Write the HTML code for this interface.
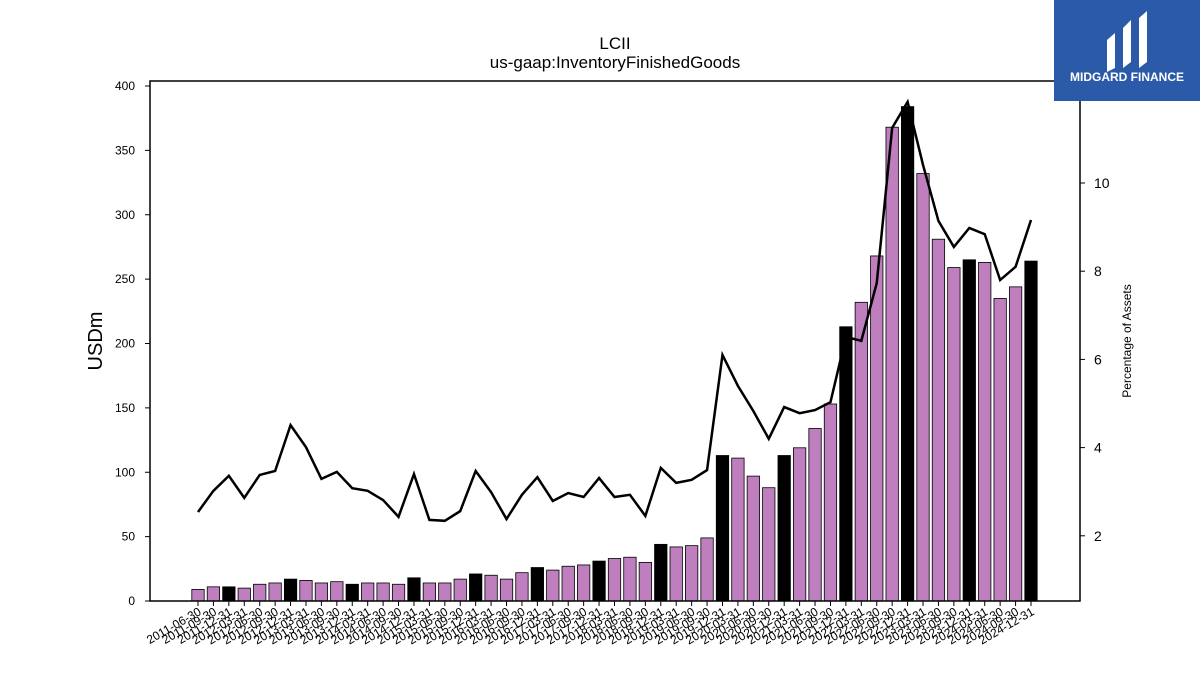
<!DOCTYPE html>
<html><head><meta charset="utf-8"><style>
body{margin:0;background:#fff;font-family:"Liberation Sans","DejaVu Sans",sans-serif;}
svg text{font-family:"Liberation Sans","DejaVu Sans",sans-serif;}
</style></head><body>
<svg id="chart" width="1200" height="675" xmlns="http://www.w3.org/2000/svg">
<rect width="1200" height="675" fill="#fff"/>
<text x="615" y="49" font-size="17" text-anchor="middle">LCII</text>
<text x="615" y="68" font-size="17" text-anchor="middle">us-gaap:InventoryFinishedGoods</text>
<g id="bars"></g>
<g id="line"></g>
<rect x="150" y="81" width="930" height="520" fill="none" stroke="#000" stroke-width="1.5"/>
<g id="yleft"></g>
<g id="yright"></g>
<g id="xaxis"></g>
<text transform="translate(102,341) rotate(-90)" font-size="20" text-anchor="middle">USDm</text>
<text transform="translate(1131,341) rotate(-90)" font-size="12" text-anchor="middle">Percentage of Assets</text>
<g>
<rect x="1054" y="0" width="146" height="101" fill="#2b5aa9"/>
<path d="M1107 40 L1115 33 L1115 68 L1107 72 Z M1123 28 L1131 20 L1131 62 L1123 68 Z M1139 18 L1147 11 L1147 62 L1139 68 Z" fill="#fff"/>
<text x="1127" y="81" font-size="12" font-weight="bold" fill="#fff" text-anchor="middle">MIDGARD FINANCE</text>
</g>
</svg>
<script>
const dates=["2011-06-30","2011-09-30","2011-12-31","2012-03-31","2012-06-30","2012-09-30","2012-12-31","2013-03-31","2013-06-30","2013-09-30","2013-12-31","2014-03-31","2014-06-30","2014-09-30","2014-12-31","2015-03-31","2015-06-30","2015-09-30","2015-12-31","2016-03-31","2016-06-30","2016-09-30","2016-12-31","2017-03-31","2017-06-30","2017-09-30","2017-12-31","2018-03-31","2018-06-30","2018-09-30","2018-12-31","2019-03-31","2019-06-30","2019-09-30","2019-12-31","2020-03-31","2020-06-30","2020-09-30","2020-12-31","2021-03-31","2021-06-30","2021-09-30","2021-12-31","2022-03-31","2022-06-30","2022-09-30","2022-12-31","2023-03-31","2023-06-30","2023-09-30","2023-12-31","2024-03-31","2024-06-30","2024-09-30","2024-12-31"];
const values=[9,11,11,10,13,14,17,16,14,15,13,14,14,13,18,14,14,17,21,20,17,22,26,24,27,28,31,33,34,30,44,42,43,49,113,111,97,88,113,119,134,153,213,232,268,368,384,332,281,259,265,263,235,244,264];
const pct=[2.54,3.02,3.36,2.86,3.38,3.47,4.51,4.01,3.29,3.45,3.08,3.02,2.81,2.43,3.40,2.36,2.34,2.56,3.47,2.99,2.38,2.93,3.33,2.79,2.97,2.88,3.31,2.88,2.93,2.45,3.54,3.20,3.27,3.49,6.10,5.40,4.83,4.20,4.92,4.78,4.85,5.03,6.51,6.42,7.73,11.25,11.84,10.41,9.14,8.55,8.98,8.84,7.80,8.10,9.16];
const leftTicks=[0,50,100,150,200,250,300,350,400];
const rightTicks=[2,4,6,8,10];
const NS="http://www.w3.org/2000/svg";
function mk(t,a,p){const e=document.createElementNS(NS,t);for(const k in a)e.setAttribute(k,a[k]);p.appendChild(e);return e;}
const x=i=>198+i*(1031-198)/(dates.length-1);
const yL=v=>601-v*(515/400);
const yR=v=>624-v*44.1;
const bw=12.4;
const bars=document.getElementById('bars');
values.forEach((v,i)=>{
 const black=dates[i].endsWith('12-31');
 const r=mk('rect',{x:x(i)-bw/2,y:yL(v),width:bw,height:601-yL(v),fill:black?'#000':'#bf7fbf',stroke:'#000','stroke-width':0.8},bars);
 
 
});
const line=document.getElementById('line');
const pl=mk('polyline',{points:pct.map((v,i)=>x(i)+','+yR(v)).join(' '),fill:'none',stroke:'#000','stroke-width':2.5},line);


const yl=document.getElementById('yleft');
leftTicks.forEach(t=>{
 const y=yL(t);
 mk('line',{x1:145,x2:150,y1:y,y2:y,stroke:'#000'},yl);
 const tx=mk('text',{x:135,y:y+4,'font-size':12,'text-anchor':'end'},yl);tx.textContent=t;
 
 
});
const yr=document.getElementById('yright');
rightTicks.forEach(t=>{
 const y=yR(t);
 mk('line',{x1:1080,x2:1085,y1:y,y2:y,stroke:'#000'},yr);
 const tx=mk('text',{x:1094,y:y+5,'font-size':14},yr);tx.textContent=t;
 
 
});
const xa=document.getElementById('xaxis');
dates.forEach((d,i)=>{
 const xx=x(i);
 mk('line',{x1:xx,x2:xx,y1:601,y2:606,stroke:'#000'},xa);
 const tx=mk('text',{transform:`translate(${xx+4},${614}) rotate(-30)`,'font-size':12,'text-anchor':'end'},xa);tx.textContent=d;
 
 
});
</script>
</body></html>
